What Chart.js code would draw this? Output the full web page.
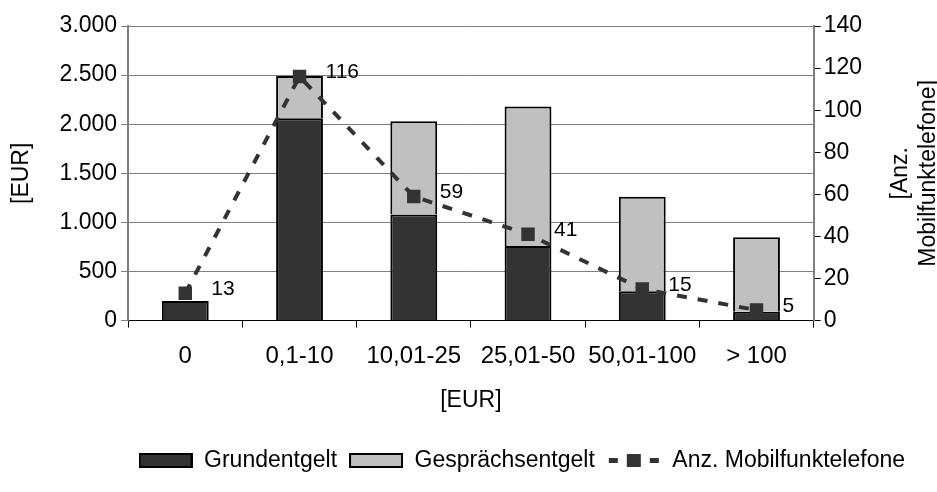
<!DOCTYPE html>
<html>
<head>
<meta charset="utf-8">
<script src="https://cdn.jsdelivr.net/npm/chart.js@4/dist/chart.umd.min.js"></script>
<style>
  html, body { margin: 0; padding: 0; background: #fff; }
  #wrap { width: 937px; height: 492px; }
</style>
</head>
<body>
<div id="wrap"><canvas id="chart"></canvas></div>
<script>
// values
const categories = ["0", "0,1-10", "10,01-25", "25,01-50", "50,01-100", "> 100"];
const grundentgelt = [200, 2060, 1080, 760, 300, 90];
const gespraechsentgelt = [0, 430, 950, 1420, 960, 760];
const mobilfunktelefone = [13, 116, 59, 41, 15, 5];
const eurTickLabels = ["0", "500", "1.000", "1.500", "2.000", "2.500", "3.000"];

const FONT = "'Liberation Sans', Arial, sans-serif";
const DARK = "#333333";
const LIGHT = "#c0c0c0";

// little legend pictures
function boxImg(fill) {
  const c = document.createElement("canvas");
  c.width = 54; c.height = 15;
  const g = c.getContext("2d");
  g.fillStyle = fill;
  g.fillRect(1, 1, 52, 13);
  g.strokeStyle = "#000";
  g.lineWidth = 2;
  g.strokeRect(1, 1, 52, 13);
  return c;
}
function lineImg() {
  const c = document.createElement("canvas");
  c.width = 54; c.height = 15;
  const g = c.getContext("2d");
  g.fillStyle = DARK;
  g.fillRect(2, 5, 9, 5);
  g.fillRect(43, 5, 9, 5);
  g.fillRect(20, 1, 14, 13);
  return c;
}

const pointLabels = {
  id: "pointLabels",
  afterDatasetsDraw(chart) {
    const ctx = chart.ctx;
    const meta = chart.getDatasetMeta(2);
    ctx.save();
    ctx.font = "21px " + FONT;
    ctx.fillStyle = "#000";
    ctx.textAlign = "left";
    ctx.textBaseline = "middle";
    meta.data.forEach((el, i) => {
      ctx.fillText(String(mobilfunktelefone[i]), el.x + 26, el.y - 4);
    });
    ctx.restore();
  }
};

const rightTitle = {
  id: "rightTitle",
  afterDraw(chart) {
    const ctx = chart.ctx;
    const a = chart.chartArea;
    const cy = (a.top + a.bottom) / 2;
    ctx.save();
    ctx.font = "23px " + FONT;
    ctx.fillStyle = "#000";
    ctx.textAlign = "center";
    ctx.textBaseline = "middle";
    ctx.translate(a.right + 101, cy);
    ctx.rotate(-Math.PI / 2);
    ctx.fillText("[Anz.", 0, -14);
    ctx.fillText("Mobilfunktelefone]", 0, 14);
    ctx.restore();
  }
};

new Chart(document.getElementById("chart"), {
  data: {
    labels: categories,
    datasets: [
      {
        type: "bar",
        label: "Grundentgelt",
        data: grundentgelt,
        backgroundColor: DARK,
        borderColor: "#000",
        borderWidth: 2,
        yAxisID: "y",
        stack: "s",
        order: 1,
      },
      {
        type: "bar",
        label: "Gesprächsentgelt",
        data: gespraechsentgelt,
        backgroundColor: LIGHT,
        borderColor: "#000",
        borderWidth: 2,
        yAxisID: "y",
        stack: "s",
        order: 1,
      },
      {
        type: "line",
        label: "Anz. Mobilfunktelefone",
        data: mobilfunktelefone,
        borderColor: DARK,
        backgroundColor: DARK,
        borderWidth: 4,
        borderDash: [10, 11],
        pointStyle: "rect",
        pointRadius: 9.5,
        pointBorderWidth: 0,
        tension: 0,
        yAxisID: "y1",
        order: 0,
      },
    ],
  },
  options: {
    responsive: true,
    maintainAspectRatio: false,
    animation: false,
    datasets: {
      bar: { categoryPercentage: 1, barPercentage: 0.41 },
    },
    layout: { padding: { top: 26, right: 20, left: 4, bottom: 10 } },
    scales: {
      x: {
        stacked: true,
        offset: true,
        grid: {
          display: true,
          offset: true,
          drawOnChartArea: false,
          color: "#000",
          tickLength: 7,
        },
        border: { color: "#000", width: 1 },
        ticks: { color: "#000", font: { family: FONT, size: 24 }, padding: 14 },
        title: {
          display: true,
          text: "[EUR]",
          color: "#000",
          font: { family: FONT, size: 23 },
          padding: { top: 2, bottom: 23 },
        },
      },
      y: {
        stacked: true,
        position: "left",
        min: 0,
        max: 3000,
        grid: { color: "#7f7f7f", tickLength: 7 },
        border: { color: "#7f7f7f", width: 2 },
        ticks: {
          stepSize: 500,
          color: "#000",
          font: { family: FONT, size: 23 },
          padding: 4,
          callback: (v) => eurTickLabels[v / 500],
        },
        title: {
          display: true,
          text: "[EUR]",
          color: "#000",
          font: { family: FONT, size: 23 },
          padding: { bottom: 20 },
        },
      },
      y1: {
        position: "right",
        min: 0,
        max: 140,
        grid: { drawOnChartArea: false, color: "#000", tickLength: 7 },
        border: { color: "#7f7f7f", width: 2 },
        ticks: {
          stepSize: 20,
          color: "#000",
          font: { family: FONT, size: 23 },
          padding: 3,
        },
        afterFit: (scale) => { scale.width += 52; },
      },
    },
    plugins: {
      tooltip: { enabled: false },
      legend: {
        display: true,
        position: "bottom",
        align: "end",
        onClick: null,
        labels: {
          usePointStyle: true,
          pointStyleWidth: 54,
          padding: 12,
          color: "#000",
          font: { family: FONT, size: 23 },
          generateLabels: () => [
            { text: "Grundentgelt", pointStyle: boxImg(DARK), datasetIndex: 0, lineWidth: 0 },
            { text: "Gesprächsentgelt", pointStyle: boxImg(LIGHT), datasetIndex: 1, lineWidth: 0 },
            { text: "Anz. Mobilfunktelefone", pointStyle: lineImg(), datasetIndex: 2, lineWidth: 0 },
          ],
        },
      },
    },
  },
  plugins: [pointLabels, rightTitle],
});
</script>
</body>
</html>
